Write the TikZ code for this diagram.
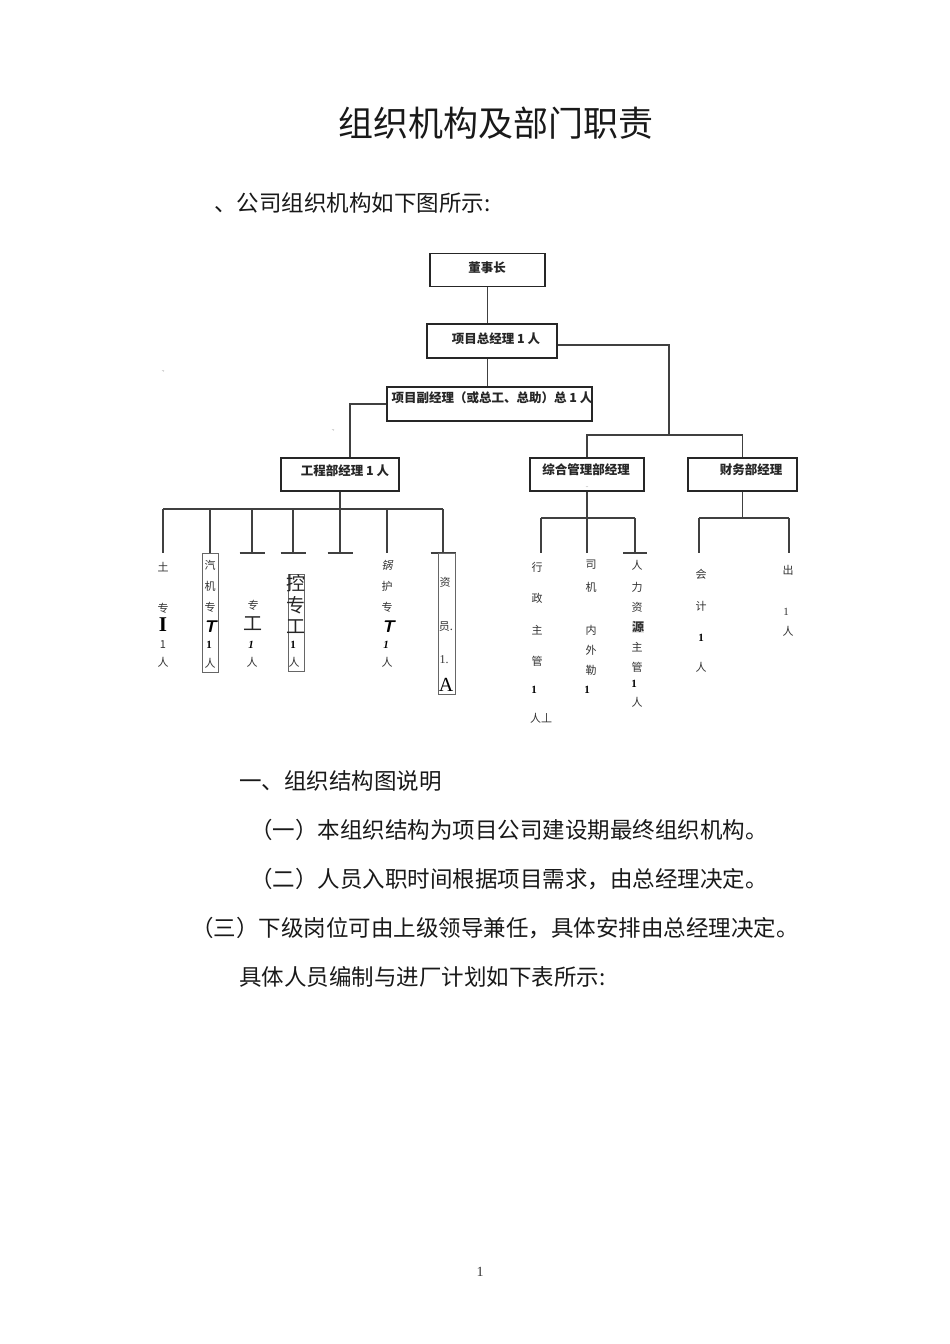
\documentclass[tikz,border=0pt]{standalone}
\usepackage{fontspec}
\setmainfont{Liberation Serif}
\newfontfamily\cjk{Noto Sans CJK SC}
\begin{document}
\begin{tikzpicture}[x=1pt,y=-1pt,
  ln/.style={draw=black!75, line width=1.4pt},
  box/.style={draw=black!85, line width=1.4pt, inner sep=0pt, fill=white},
  cbox/.style={draw=black!60, line width=0.8pt, inner sep=0pt},
  btxt/.style={font=\cjk\bfseries\fontsize{12.5}{13}\selectfont, inner sep=0pt, text=black!85},
  ct/.style={font=\cjk\fontsize{11}{12}\selectfont, inner sep=0pt, text=black!80},
  bigc/.style={font=\cjk\fontsize{19}{20}\selectfont, inner sep=0pt, text=black!85},
  body/.style={font=\cjk\fontsize{22.5}{23}\selectfont, anchor=west, inner sep=0pt, text=black!90},
  tinymk/.style={font=\fontsize{6}{6}\selectfont, text=black!50, inner sep=0pt}
]
\useasboundingbox[fill=white] (0,0) rectangle (950,1344);

% headings
\node[body, font=\cjk\fontsize{35}{35}\selectfont] (title) at (338,123) {组织机构及部门职责};
\node[body] (sub) at (214,203) {、公司组织机构如下图所示:};

% stray marks
\node[tinymk] (m1) at (163,372) {.,};
\node[tinymk] (m2) at (333,431) {.,};

% boxes
\node[box, minimum width=115, minimum height=33] (dsz) at (487.5,270) {};
\node[btxt] (dszt) at (487,268) {董事长};
\node[box, minimum width=130, minimum height=34] (zjl) at (492,341) {};
\node[btxt] (zjlt) at (496,339) {项目总经理 1 人};
\node[box, minimum width=205, minimum height=34] (fjl) at (489.5,404) {};
\node[btxt] (fjlt) at (492,398) {项目副经理（或总工、总助）总 1 人};
\node[box, minimum width=118, minimum height=33] (gcb) at (340,474.5) {};
\node[btxt] (gcbt) at (345,471) {工程部经理 1 人};
\node[box, minimum width=114, minimum height=33] (zhb) at (587,474.5) {};
\node[btxt] (zhbt) at (586,470) {综合管理部经理};
\node[tinymk] (zhbd) at (587,487) {..};
\node[box, minimum width=109, minimum height=33] (cwb) at (742.5,474.5) {};
\node[btxt] (cwbt) at (751,470) {财务部经理};

% upper connectors
\draw[ln] (dsz.south) -- (zjl.north -| dsz.south);
\draw[ln] (zjl.south -| dsz.south) -- (fjl.north -| dsz.south);
\coordinate (gk) at (350,404);
\draw[ln] (fjl.west) -- (gk) -- (gk |- gcb.north);
\coordinate (rk) at (669,435);
\coordinate (zr) at (zjl.east);
\draw[ln] ([yshift=-4]zr) -| (rk);
\draw[ln] (zhb.north) |- (rk) -| (cwb.north);

% engineering branch
\draw[ln] (gcb.south) -- (340,509);
\draw[ln] (163,509) -- (443,509);
\foreach \x [count=\i] in {163,210,252,293,340,387,443} {
  \coordinate (et\i) at (\x,509);
  \coordinate (eb\i) at (\x,553);
  \draw[ln] (et\i) -- (eb\i);
}
\foreach \i in {3,4,5,7} \draw[ln] ([xshift=-12.5]eb\i) -- ([xshift=12.5]eb\i);

% engineering column boxes
\node[cbox, minimum width=16, minimum height=119] (bxB) at (210,612.5) {};
\node[cbox, minimum width=16, minimum height=97] (bxD) at (296,622.5) {};
\node[cbox, minimum width=17, minimum height=141] (bxF) at (446.5,623.5) {};

% column A
\foreach \t/\y [count=\i] in {土/567,专/608,1/645,人/662} \node[ct] (a\i) at (163,\y) {\t};
\node[font=\rmfamily\bfseries\fontsize{21}{21}\selectfont, inner sep=0pt] (aI) at (163,625) {I};
% column B
\foreach \t/\y [count=\i] in {汽/565,机/586,专/607,人/663} \node[ct] (b\i) at (210,\y) {\t};
\node[font=\sffamily\bfseries\itshape\fontsize{17}{17}\selectfont, inner sep=0pt] (bT) at (210,627) {T};
\node[font=\rmfamily\bfseries\fontsize{11}{11}\selectfont, inner sep=0pt] (b1) at (209,645) {1};
% column C
\node[ct, xslant=0.25] (c1) at (253,605) {专};
\node[bigc] (c2) at (253,624) {工};
\node[font=\rmfamily\bfseries\itshape\fontsize{11}{11}\selectfont, inner sep=0pt] (c3) at (251,645) {1};
\node[ct] (c4) at (252,662) {人};
% column D
\foreach \t/\y [count=\i] in {控/583,专/605,工/627} \node[bigc] (d\i) at (296,\y) {\t};
\node[font=\rmfamily\bfseries\fontsize{11}{11}\selectfont, inner sep=0pt] (d4) at (293,645) {1};
\node[ct] (d5) at (294,662) {人};
% column E
\node[ct, xslant=0.25] (e1) at (388,565) {锅};
\foreach \t/\y [count=\i from 2] in {护/586,专/607,人/662} \node[ct] (e\i) at (387,\y) {\t};
\node[font=\sffamily\bfseries\itshape\fontsize{17}{17}\selectfont, inner sep=0pt] (eT) at (388,627) {T};
\node[font=\rmfamily\bfseries\itshape\fontsize{11}{11}\selectfont, inner sep=0pt] (e5) at (386,645) {1};
% column F
\node[ct] (f1) at (445,582) {资};
\node[ct] (f2) at (446,627) {员.};
\node[font=\rmfamily\fontsize{12}{12}\selectfont, inner sep=0pt, text=black!80] (f3) at (444,660) {1.};
\node[font=\rmfamily\fontsize{20}{20}\selectfont, inner sep=0pt] (f4) at (446,685) {A};

% admin branch
\coordinate (zt) at (587,518);
\draw[ln] (zhb.south) -- (zt);
\draw[ln] (541,518) -- (635,518);
\foreach \x [count=\i] in {541,587,635} {
  \coordinate (zt\i) at (\x,518);
  \coordinate (zb\i) at (\x,553);
  \draw[ln] (zt\i) -- (zb\i);
}
\draw[ln] ([xshift=-12]zb3) -- ([xshift=12]zb3);
% finance branch
\coordinate (ft) at (742.5,518);
\draw[ln] (cwb.south) -- (ft);
\draw[ln] (699,518) -- (789,518);
\foreach \x [count=\i] in {699,789} {
  \coordinate (ft\i) at (\x,518);
  \coordinate (fb\i) at (\x,553);
  \draw[ln] (ft\i) -- (fb\i);
}

% column G
\foreach \t/\y [count=\i] in {行/567,政/598,主/630,管/661} \node[ct] (g\i) at (537,\y) {\t};
\node[font=\rmfamily\bfseries\fontsize{11}{11}\selectfont, inner sep=0pt] (g5) at (534,690) {1};
\node[ct] (g6) at (541,718) {人丄};
% column H
\foreach \t/\y [count=\i] in {司/565,机/587,内/630,外/650,勒/670} \node[ct] (h\i) at (591,\y) {\t};
\node[font=\rmfamily\bfseries\fontsize{11}{11}\selectfont, inner sep=0pt] (h6) at (587,690) {1};
% column I
\foreach \t/\y [count=\i] in {人/565,力/587,资/607,主/647,管/667,人/702} \node[ct] (i\i) at (637,\y) {\t};
\node[ct, font=\cjk\bfseries\fontsize{12}{12}\selectfont, fill=black!10] (i7) at (638,627) {源};
\node[font=\rmfamily\bfseries\fontsize{11}{11}\selectfont, inner sep=0pt] (i8) at (634,684) {1};
% column J
\foreach \t/\y [count=\i] in {会/574,计/606,人/667} \node[ct] (j\i) at (701,\y) {\t};
\node[font=\rmfamily\bfseries\fontsize{11}{11}\selectfont, inner sep=0pt] (j4) at (701,638) {1};
% column K
\foreach \t/\y [count=\i] in {出/570,人/631} \node[ct] (k\i) at (788,\y) {\t};
\node[font=\rmfamily\fontsize{11}{11}\selectfont, inner sep=0pt, text=black!80] (k3) at (786,612) {1};

% body text
\node[body] (l1) at (239,781) {一、组织结构图说明};
\node[body] (l2) at (250,830) {（一）本组织结构为项目公司建设期最终组织机构。};
\node[body] (l3) at (250,879) {（二）人员入职时间根据项目需求，由总经理决定。};
\node[body] (l4) at (191,928) {（三）下级岗位可由上级领导兼任，具体安排由总经理决定。};
\node[body] (l5) at (239,977) {具体人员编制与进厂计划如下表所示:};

\node[font=\rmfamily\fontsize{14}{14}\selectfont, inner sep=0pt, text=black!80] (pg) at (480,1272) {1};
\end{tikzpicture}
\end{document}
